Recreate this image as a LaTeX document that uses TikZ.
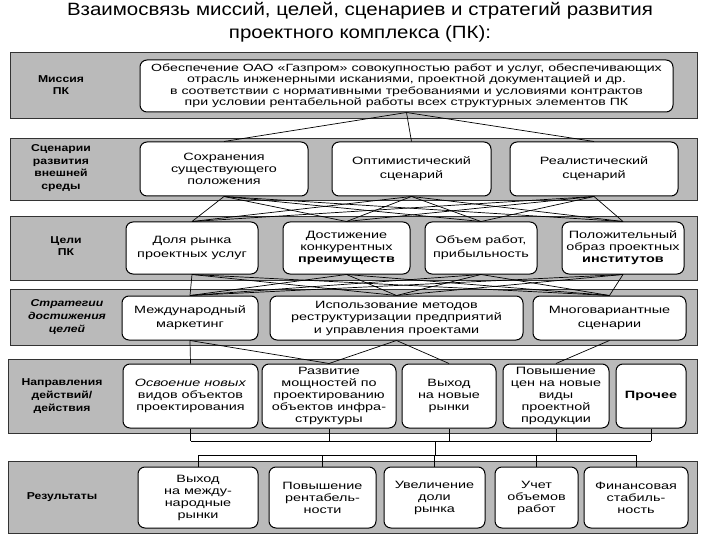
\documentclass[tikz,border=0pt]{standalone}
\usepackage{fontspec}
\setmainfont{Liberation Sans}[FakeStretch=1.36]
\newfontfamily\titlefont{Liberation Sans}[FakeStretch=1.15]
\newfontfamily\labfont{Liberation Sans}[FakeStretch=1.22]
\begin{document}
\begin{tikzpicture}[x=1pt,y=-1pt,
  band/.style={draw=black!80, line width=0.9pt, fill=black!27, inner sep=0pt},
  box/.style={draw=black, line width=1pt, fill=white, rounded corners=7pt, align=center, inner sep=1pt,
    font=\fontsize{10.6}{12}\selectfont},
  lab/.style={align=center, font=\labfont\fontsize{10}{12.8}\selectfont\bfseries, inner sep=0pt},
  link/.style={draw=black, line width=0.7pt}]
\useasboundingbox (0,0) rectangle (720,540);
\fill[white] (0,0) rectangle (720,540);
% title
\node[font=\titlefont\fontsize{17.8}{23}\selectfont, align=center] (title) at (360,22)
  {Взаимосвязь миссий, целей, сценариев и стратегий развития\\проектного комплекса (ПК):};
% bands
\node[band, minimum width=687, minimum height=66] (band1) at (353.5,85) {};
\node[band, minimum width=687, minimum height=62] (band2) at (353.5,169) {};
\node[band, minimum width=687, minimum height=64] (band3) at (353.5,248) {};
\node[band, minimum width=687, minimum height=56] (band4) at (353.5,317) {};
\node[band, minimum width=689, minimum height=74] (band5) at (352.5,396) {};
\node[band, minimum width=689, minimum height=72] (band6) at (352.5,497) {};
% labels
\node[lab] (l1) at (61,85) {Миссия\\ПК};
\node[lab] (l2) at (61,168) {Сценарии\\развития\\внешней\\среды};
\node[lab] (l3) at (66,246) {Цели\\ПК};
\node[lab, font=\labfont\fontsize{10}{12.8}\selectfont\bfseries\itshape] (l4) at (67,317) {Стратегии\\достижения\\целей};
\node[lab] (l5) at (62,396) {Направления\\действий/\\действия};
\node[lab] (l6) at (62,497) {Результаты};
% mission
\node[box, minimum width=533, minimum height=52, font=\fontsize{10.4}{11.5}\selectfont] (m) at (406.5,86)
  {Обеспечение ОАО «Газпром» совокупностью работ и услуг, обеспечивающих\\
   отрасль инженерными исканиями, проектной документацией и др.\\
   в соответствии с нормативными требованиями и условиями контрактов\\
   при условии рентабельной работы всех структурных элементов ПК};
% scenarios
\node[box, minimum width=168, minimum height=54] (s1) at (224,169) {Сохранения\\существующего\\положения};
\node[box, minimum width=159, minimum height=54, font=\fontsize{10.6}{14}\selectfont] (s2) at (411.5,169) {Оптимистический\\сценарий};
\node[box, minimum width=168, minimum height=54, font=\fontsize{10.6}{14}\selectfont] (s3) at (594,169) {Реалистический\\сценарий};
% goals
\node[box, minimum width=132, minimum height=52, font=\fontsize{10.6}{14}\selectfont] (g1) at (192,248) {Доля рынка\\проектных услуг};
\node[box, minimum width=127, minimum height=52] (g2) at (346.5,248) {Достижение\\конкурентных\\\textbf{преимуществ}};
\node[box, minimum width=112, minimum height=52, font=\fontsize{10.6}{14}\selectfont] (g3) at (481,248) {Объем работ,\\прибыльность};
\node[box, minimum width=122, minimum height=52] (g4) at (623,248) {Положительный\\образ проектных\\\textbf{институтов}};
% strategies
\node[box, minimum width=136, minimum height=44, font=\fontsize{10.6}{14}\selectfont] (t1) at (190,318) {Международный\\маркетинг};
\node[box, minimum width=253, minimum height=44, font=\fontsize{10.6}{12.5}\selectfont] (t2) at (396.5,318) {Использование методов\\реструктуризации предприятий\\и управления проектами};
\node[box, minimum width=153, minimum height=44, font=\fontsize{10.6}{14}\selectfont] (t3) at (609.5,318) {Многовариантные\\сценарии};
% actions
\node[box, minimum width=135, minimum height=64] (a1) at (190.5,396) {\textit{Освоение новых}\\видов объектов\\проектирования};
\node[box, minimum width=134, minimum height=64] (a2) at (329,396) {Развитие\\мощностей по\\проектированию\\объектов инфра-\\структуры};
\node[box, minimum width=94, minimum height=64] (a3) at (449,396) {Выход\\на новые\\рынки};
\node[box, minimum width=106, minimum height=64] (a4) at (556,396) {Повышение\\цен на новые\\виды\\проектной\\продукции};
\node[box, minimum width=70, minimum height=64] (a5) at (651,396) {\textbf{Прочее}};
% results
\node[box, minimum width=120, minimum height=61] (r1) at (198,497.5) {Выход\\на между-\\народные\\рынки};
\node[box, minimum width=107, minimum height=61] (r2) at (322.5,497.5) {Повышение\\рентабель-\\ности};
\node[box, minimum width=101, minimum height=61] (r3) at (434.5,497.5) {Увеличение\\доли\\рынка};
\node[box, minimum width=83, minimum height=61] (r4) at (536.5,497.5) {Учет\\объемов\\работ};
\node[box, minimum width=104, minimum height=61] (r5) at (636,497.5) {Финансовая\\стабиль-\\ность};
% connectors
\foreach \s in {s1,s2,s3} \draw[link] (m.south) -- (\s.north);
\foreach \s in {s1,s2,s3} \foreach \g in {g1,g2,g3,g4} \draw[link] (\s.south) -- (\g.north);
\foreach \g in {g1,g2,g3,g4} \foreach \t in {t1,t2,t3} \draw[link] (\g.south) -- (\t.north);
\draw[link] (t1.south) -- (a1.north);
\draw[link] (t1.south) -- (a2.north);
\draw[link] (t2.south) -- (a2.north);
\draw[link] (t2.south) -- (a3.north);
\draw[link] (t3.south) -- (a4.north);
\coordinate (b1) at (435,441);
\coordinate (b2) at (435,455);
\foreach \a in {a1,a2,a3,a4,a5} \draw[link] (\a.south) -- (\a.south |- b1);
\draw[link] (a1.south |- b1) -- (a5.south |- b1);
\draw[link] (b1) -- (b2);
\draw[link] (r1.north |- b2) -- (r5.north |- b2);
\foreach \r in {r1,r2,r3,r4,r5} \draw[link] (\r.north |- b2) -- (\r.north);
\end{tikzpicture}
\end{document}
